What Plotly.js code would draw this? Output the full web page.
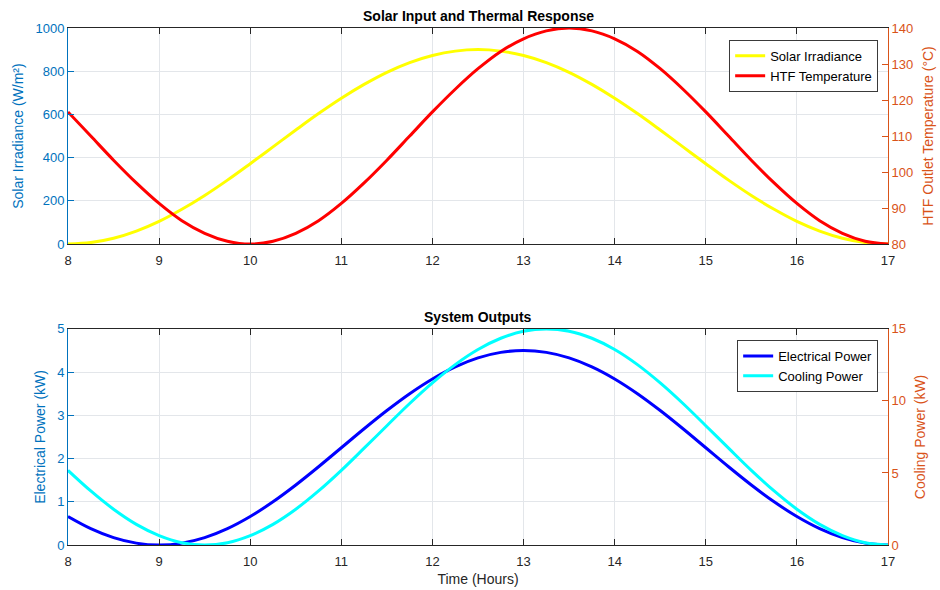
<!DOCTYPE html>
<html>
<head>
<meta charset="utf-8">
<script src="https://cdn.plot.ly/plotly-3.0.1.min.js"></script>
<style>html,body{margin:0;padding:0;background:#fff;}#chart{width:940px;height:590px;}</style>
</head>
<body>
<div id="chart"></div>
<script>
// Time in hours (0.25 h steps, 8 to 17)
const timeHours = [8,8.25,8.5,8.75,9,9.25,9.5,9.75,10,10.25,10.5,10.75,11,11.25,11.5,11.75,12,12.25,12.5,12.75,13,13.25,13.5,13.75,14,14.25,14.5,14.75,15,15.25,15.5,15.75,16,16.25,16.5,16.75,17];

// Solar irradiance (W/m²)
const solarIrradiance = [0,7,27,60,105,161,225,296,372,450,528,604,675,739,795,840,873,893,900,893,873,840,795,739,675,604,528,450,372,296,225,161,105,60,27,7,0];

// HTF outlet temperature (°C)
const htfTemperature = [116.7,110,103.3,97.0,91.3,86.5,83.0,80.8,80,80.8,83.0,86.5,91.3,97.0,103.3,110,116.7,123.0,128.7,133.5,137.0,139.2,140,139.2,137.0,133.5,128.7,123.0,116.7,110,103.3,97.0,91.3,86.5,83.0,80.8,80];

// Electrical power (kW)
const electricalPower = [0.659,0.379,0.171,0.043,0,0.043,0.171,0.379,0.659,1.000,1.389,1.811,2.25,2.689,3.111,3.500,3.841,4.121,4.329,4.457,4.5,4.457,4.329,4.121,3.841,3.500,3.111,2.689,2.25,1.811,1.389,1.000,0.659,0.379,0.171,0.043,0];

// Cooling power (kW)
const coolingPower = [5.18,3.75,2.48,1.43,0.65,0.16,0,0.16,0.65,1.43,2.48,3.75,5.18,6.72,8.28,9.82,11.25,12.52,13.57,14.35,14.84,15,14.84,14.35,13.57,12.52,11.25,9.82,8.28,6.72,5.18,3.75,2.48,1.43,0.65,0.16,0];

const xTicks = [8,9,10,11,12,13,14,15,16,17];

const BLUE = '#0072BD', ORANGE = '#D95319', DARK = '#262626', GRID = '#E3E6EA';
const FONT = 'Liberation Sans, Arial, sans-serif';

const traces = [
  {x: timeHours, y: solarIrradiance, name: 'Solar Irradiance', type: 'scatter', mode: 'lines',
   line: {color: '#FFFF00', width: 3, shape: 'spline'}, xaxis: 'x', yaxis: 'y', legend: 'legend'},
  {x: timeHours, y: htfTemperature, name: 'HTF Temperature', type: 'scatter', mode: 'lines',
   line: {color: '#FF0000', width: 3, shape: 'spline'}, xaxis: 'x', yaxis: 'y2', legend: 'legend'},
  {x: timeHours, y: electricalPower, name: 'Electrical Power', type: 'scatter', mode: 'lines',
   line: {color: '#0000FF', width: 3, shape: 'spline'}, xaxis: 'x2', yaxis: 'y3', legend: 'legend2'},
  {x: timeHours, y: coolingPower, name: 'Cooling Power', type: 'scatter', mode: 'lines',
   line: {color: '#00FFFF', width: 3, shape: 'spline'}, xaxis: 'x2', yaxis: 'y4', legend: 'legend2'}
];

function xAxis(anchor, withTitle) {
  const a = {
    domain: [0, 1], anchor: anchor, range: [8, 17], tickvals: xTicks,
    showline: true, linecolor: DARK, linewidth: 1, mirror: 'ticks',
    ticks: 'inside', ticklen: 6, tickcolor: DARK, ticklabelstandoff: 4,
    showgrid: true, gridcolor: GRID, zeroline: false,
    tickfont: {family: FONT, size: 13, color: DARK}
  };
  if (withTitle) a.title = {text: 'Time (Hours)', font: {family: FONT, size: 14, color: DARK}, standoff: 6};
  return a;
}
function yLeft(anchor, domain, range, dtick, title) {
  return {
    domain: domain, anchor: anchor, range: range, dtick: dtick, tick0: 0,
    showline: true, linecolor: BLUE, linewidth: 1,
    ticks: 'inside', ticklen: 6, tickcolor: BLUE,
    showgrid: true, gridcolor: GRID, zeroline: false,
    tickfont: {family: FONT, size: 13, color: BLUE},
    title: {text: title, font: {family: FONT, size: 14, color: BLUE}, standoff: 8}
  };
}
function yRight(anchor, overlay, range, dtick, title) {
  return {
    overlaying: overlay, side: 'right', anchor: anchor, range: range, dtick: dtick, tick0: 0,
    showline: true, linecolor: ORANGE, linewidth: 1,
    ticks: 'inside', ticklen: 6, tickcolor: ORANGE,
    showgrid: false, zeroline: false,
    tickfont: {family: FONT, size: 13, color: ORANGE},
    title: {text: title, font: {family: FONT, size: 14, color: ORANGE}, standoff: 10}
  };
}

const layout = {
  width: 940, height: 590,
  margin: {l: 68, r: 52, t: 28, b: 45},
  paper_bgcolor: '#fff', plot_bgcolor: '#fff',
  font: {family: FONT, color: DARK},
  xaxis: xAxis('y', false),
  yaxis: yLeft('x', [0.582, 1], [0, 1000], 200, 'Solar Irradiance (W/m²)'),
  yaxis2: yRight('x', 'y', [80, 140], 10, 'HTF Outlet Temperature (°C)'),
  xaxis2: xAxis('y3', true),
  yaxis3: yLeft('x2', [0, 0.418], [0, 5], 1, 'Electrical Power (kW)'),
  yaxis4: yRight('x2', 'y3', [0, 15], 5, 'Cooling Power (kW)'),
  legend: {x: 0.988, y: 0.977, xanchor: 'right', yanchor: 'top', xref: 'paper', yref: 'paper',
    bgcolor: '#fff', bordercolor: '#3a3a3a', borderwidth: 1,
    font: {family: FONT, size: 13, color: '#000'}, tracegroupgap: 0},
  legend2: {x: 0.988, y: 0.3965, xanchor: 'right', yanchor: 'top', xref: 'paper', yref: 'paper',
    bgcolor: '#fff', bordercolor: '#3a3a3a', borderwidth: 1,
    font: {family: FONT, size: 13, color: '#000'}, tracegroupgap: 0},
  annotations: [
    {text: '<b>Solar Input and Thermal Response</b>', xref: 'paper', yref: 'paper', x: 0.5, y: 1,
     xanchor: 'center', yanchor: 'bottom', yshift: 2, showarrow: false, font: {family: FONT, size: 14, color: '#000'}},
    {text: '<b>System Outputs</b>', xref: 'paper', yref: 'paper', x: 0.5, y: 0.418,
     xanchor: 'center', yanchor: 'bottom', yshift: 2, showarrow: false, font: {family: FONT, size: 14, color: '#000'}}
  ],
  showlegend: true
};

Plotly.newPlot('chart', traces, layout, {displayModeBar: false, staticPlot: true});
</script>
</body>
</html>
